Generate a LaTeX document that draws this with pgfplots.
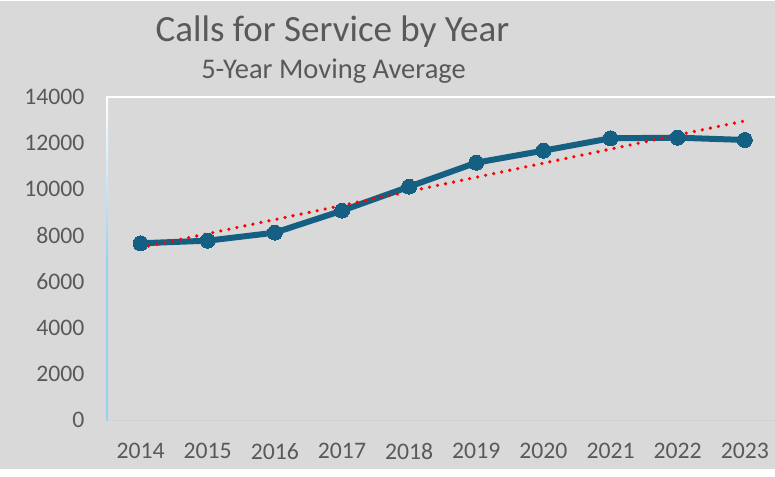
\documentclass[border=0pt]{standalone}
\usepackage{fontspec}
\setmainfont{Carlito}[Numbers=Lining]
\usepackage{pgfplots}
\pgfplotsset{compat=1.18}
\definecolor{bg}{HTML}{D9D9D9}
\definecolor{txt}{HTML}{595959}
\definecolor{callsblue}{HTML}{156082}
\definecolor{axisblue}{HTML}{9BD1EF}
\definecolor{baseline}{HTML}{CDD3D8}

\begin{document}
\begin{tikzpicture}[x=1pt,y=1pt]
\useasboundingbox (0,0) rectangle (775,476);
\fill[bg] (0,7) rectangle (775,475);
\node[txt, font=\fontsize{37}{40}\selectfont, anchor=base, inner sep=0pt] at (332.5,434) {Calls for Service by Year};
\node[txt, font=\fontsize{28.5}{31}\selectfont, anchor=base, inner sep=0pt] at (333.5,397) {5-Year Moving Average};
\begin{axis}[
    at={(107pt,56pt)}, anchor=south west,
    scale only axis,
    width=668pt, height=323pt,
    xmin=-0.5, xmax=9.45,
    ymin=0, ymax=14000,
    axis y line*=left,
    axis x line*=bottom,
    y axis line style={draw=none},
    x axis line style={draw=baseline, line width=1pt, -},
    xtick={0,...,9},
    xticklabels={2014,2015,2016,2017,2018,2019,2020,2021,2022,2023},
    ytick={0,2000,...,14000},
    scaled y ticks=false,
    major tick length=0pt,
    tick style={draw=none},
    ticklabel style={text=txt, font=\fontsize{23.7}{24}\selectfont},
    yticklabel style={xshift=-19pt},
    /pgf/number format/1000 sep={},
    /pgf/number format/assume math mode=true,
    xticklabel style={yshift=-20pt},
    clip=false,
]
% axis frame: white top line, left line fading from white to light blue
\draw[white, line width=2pt] (rel axis cs:0,1) -- (rel axis cs:1,1);
\shade[top color=white, bottom color=axisblue, middle color=axisblue]
    ([xshift=-1pt]rel axis cs:0,0) rectangle ([xshift=1pt]rel axis cs:0,1);
\addplot[callsblue, line width=6pt, line join=round, mark=*, mark size=7.5pt,
    mark options={solid, fill=callsblue, draw=callsblue, line width=0pt}] coordinates {
    (0,7660) (1,7772) (2,8120) (3,9073) (4,10113)
    (5,11153) (6,11673) (7,12210) (8,12237) (9,12137)
};
\addplot[red, line width=3.6pt, line cap=round, dash pattern=on 0pt off 8.2pt] coordinates {
    (0,7465) (9,12965)
};
\end{axis}
\end{tikzpicture}
\end{document}
